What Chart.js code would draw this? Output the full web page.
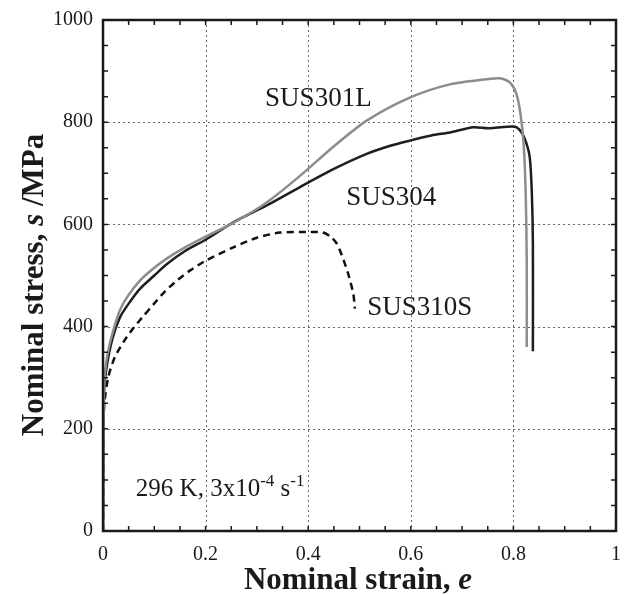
<!DOCTYPE html>
<html lang="en">
  <head>
    <meta charset="UTF-8" />
    <script src="https://cdn.jsdelivr.net/npm/chart.js@4.4.1/dist/chart.umd.min.js"></script>
    <title>Nominal stress-strain curves</title>
    <style>
      html, body { margin: 0; padding: 0; background: #fff; }
    </style>
  </head>
  <body>
    <canvas id="chart" width="625" height="595"></canvas>
    <script>
      // tensile curves at 296 K, 3x10^-4 s^-1
      const strain301L = [0, 0.002, 0.007, 0.018, 0.033, 0.05, 0.072, 0.1, 0.124, 0.16, 0.2, 0.254, 0.319, 0.384, 0.449, 0.514, 0.598, 0.676, 0.748, 0.774, 0.793, 0.806, 0.814, 0.82, 0.824, 0.826, 0.826];
      const stress301L = [0, 280, 335, 385, 432, 462, 490, 515, 533, 555, 576, 603, 643, 695, 752, 803, 848, 874, 884, 886, 878, 855, 815, 757, 660, 529, 360];

      const strain304 = [0, 0.002, 0.007, 0.018, 0.033, 0.05, 0.072, 0.1, 0.124, 0.16, 0.2, 0.254, 0.319, 0.384, 0.449, 0.514, 0.56, 0.598, 0.64, 0.676, 0.722, 0.75, 0.774, 0.803, 0.816, 0.825, 0.832, 0.836, 0.838, 0.838];
      const stress304 = [0, 270, 320, 375, 418, 445, 474, 500, 522, 548, 570, 604, 637, 673, 708, 738, 754, 764, 774, 780, 790, 788, 790, 791, 780, 760, 730, 660, 562, 352];

      const strain310S = [0, 0.002, 0.01, 0.023, 0.04, 0.059, 0.08, 0.098, 0.12, 0.144, 0.17, 0.2, 0.254, 0.3, 0.345, 0.397, 0.429, 0.445, 0.456, 0.468, 0.478, 0.488, 0.491];
      const stress310S = [0, 240, 300, 340, 370, 397, 422, 443, 468, 490, 510, 529, 555, 574, 584, 585, 584, 575, 562, 533, 503, 464, 435];

      const strainTicks = [0, 0.2, 0.4, 0.6, 0.8, 1];
      const stressTicks = [0, 200, 400, 600, 800, 1000];

      const toPoints = (xs, ys) => xs.map((v, i) => ({ x: v, y: ys[i] }));

      const serif = '"Liberation Serif", "Times New Roman", serif';

      // dotted grid, heavy frame, inward minor ticks and text labels
      const framePlugin = {
        id: "frame",
        beforeDatasetsDraw(chart) {
          const { ctx, chartArea: a, scales } = chart;
          const x = scales.x, y = scales.y;
          ctx.save();
          ctx.strokeStyle = "#6a6a6a";
          ctx.lineWidth = 1;
          ctx.setLineDash([2, 3]);
          strainTicks.slice(1, -1).forEach((v) => {
            const px = Math.round(x.getPixelForValue(v)) + 0.5;
            ctx.beginPath();
            ctx.moveTo(px, a.top);
            ctx.lineTo(px, a.bottom);
            ctx.stroke();
          });
          stressTicks.slice(1, -1).forEach((v) => {
            const py = Math.round(y.getPixelForValue(v)) + 0.5;
            ctx.beginPath();
            ctx.moveTo(a.left, py);
            ctx.lineTo(a.right, py);
            ctx.stroke();
          });
          ctx.restore();
        },
        afterDatasetsDraw(chart) {
          const { ctx, chartArea: a, scales } = chart;
          const x = scales.x, y = scales.y;
          ctx.save();
          ctx.strokeStyle = "#1a1a1a";
          ctx.lineWidth = 1.5;
          for (let v = 0.05; v < 1; v += 0.05) {
            const px = x.getPixelForValue(v);
            ctx.beginPath();
            ctx.moveTo(px, a.bottom); ctx.lineTo(px, a.bottom - 5);
            ctx.moveTo(px, a.top); ctx.lineTo(px, a.top + 5);
            ctx.stroke();
          }
          for (let v = 50; v < 1000; v += 50) {
            const py = y.getPixelForValue(v);
            ctx.beginPath();
            ctx.moveTo(a.left, py); ctx.lineTo(a.left + 5, py);
            ctx.moveTo(a.right, py); ctx.lineTo(a.right - 5, py);
            ctx.stroke();
          }
          ctx.lineWidth = 2.5;
          ctx.strokeRect(a.left, a.top, a.right - a.left, a.bottom - a.top);

          ctx.fillStyle = "#1a1a1a";
          ctx.textBaseline = "alphabetic";
          ctx.textAlign = "left";
          ctx.font = "27px " + serif;
          ctx.fillText("SUS301L", x.getPixelForValue(0.316), y.getPixelForValue(832));
          ctx.fillText("SUS304", x.getPixelForValue(0.474), y.getPixelForValue(637));
          ctx.fillText("SUS310S", x.getPixelForValue(0.515), y.getPixelForValue(422));

          // condition note with superscripts
          let cx = x.getPixelForValue(0.064);
          const cy = y.getPixelForValue(69);
          const parts = [
            ["296 K, 3x10", 25, 0],
            ["-4", 17, -10],
            [" s", 25, 0],
            ["-1", 17, -10],
          ];
          parts.forEach(([t, size, dy]) => {
            ctx.font = size + "px " + serif;
            ctx.fillText(t, cx, cy + dy);
            cx += ctx.measureText(t).width;
          });

          // axis titles with italic symbols
          const drawRun = (runs, x0, y0) => {
            let w = 0;
            runs.forEach(([t, f]) => { ctx.font = f; w += ctx.measureText(t).width; });
            let cur = x0 - w / 2;
            runs.forEach(([t, f]) => {
              ctx.font = f;
              ctx.fillText(t, cur, y0);
              cur += ctx.measureText(t).width;
            });
          };
          const bold = "bold 31px " + serif;
          const boldItalic = "italic bold 31px " + serif;
          drawRun([["Nominal strain, ", bold], ["e", boldItalic]], 358, 589);

          ctx.translate(43, 285);
          ctx.rotate(-Math.PI / 2);
          drawRun([["Nominal stress, ", bold], ["s", boldItalic], [" /MPa", bold]], 0, 0);
          ctx.restore();
        },
      };

      const ctx = document.getElementById("chart").getContext("2d");
      const chart = new Chart(ctx, {
        type: "line",
        data: {
          datasets: [
            {
              label: "SUS301L",
              data: toPoints(strain301L, stress301L),
              borderColor: "#8c8c8c",
              borderWidth: 2.5,
            },
            {
              label: "SUS304",
              data: toPoints(strain304, stress304),
              borderColor: "#1e1e1e",
              borderWidth: 2.5,
            },
            {
              label: "SUS310S",
              data: toPoints(strain310S, stress310S),
              borderColor: "#111",
              borderWidth: 2.5,
              borderDash: [7, 5],
            },
          ],
        },
        options: {
          responsive: false,
          devicePixelRatio: 1,
          animation: false,
          layout: { padding: { top: 20, right: 9, left: 0, bottom: 0 } },
          elements: {
            point: { radius: 0 },
            line: { tension: 0.25, fill: false },
          },
          plugins: {
            legend: { display: false },
            tooltip: { enabled: false },
          },
          scales: {
            x: {
              type: "linear",
              min: 0,
              max: 1,
              afterBuildTicks: (s) => { s.ticks = strainTicks.map((v) => ({ value: v })); },
              afterFit: (s) => {
                s.height = 64;
                s.paddingLeft = 0;
                s.paddingRight = 0;
              },
              grid: { display: false, drawTicks: false },
              border: { display: false },
              ticks: {
                padding: 12,
                color: "#1a1a1a",
                font: { family: serif, size: 20 },
                callback: (v) => String(v),
              },
            },
            y: {
              type: "linear",
              min: 0,
              max: 1000,
              afterBuildTicks: (s) => { s.ticks = stressTicks.map((v) => ({ value: v })); },
              afterFit: (s) => {
                s.width = 103;
                s.paddingTop = 0;
                s.paddingBottom = 0;
              },
              grid: { display: false, drawTicks: false },
              border: { display: false },
              ticks: {
                padding: 10,
                color: "#1a1a1a",
                font: { family: serif, size: 20 },
                callback: (v) => String(v),
              },
            },
          },
        },
        plugins: [framePlugin],
      });
    </script>
  </body>
</html>
